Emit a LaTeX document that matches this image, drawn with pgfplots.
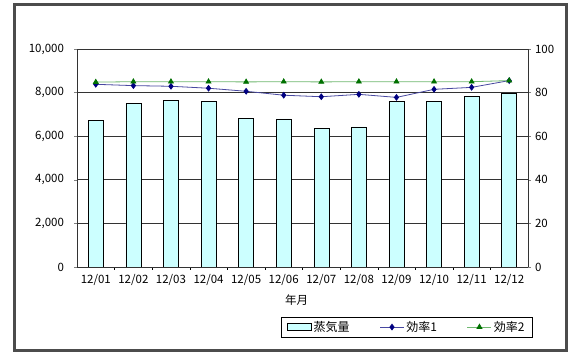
\documentclass[border=0pt]{standalone}
\usepackage{fontspec}
\setmainfont{Noto Sans CJK JP}
\usepackage{pgfplots}
\pgfplotsset{compat=1.18}
\definecolor{barfill}{HTML}{CCFFFF}
\definecolor{effone}{HTML}{000080}
\definecolor{efftwo}{HTML}{007000}
\definecolor{efftwoline}{HTML}{70B870}
\definecolor{effoneline}{HTML}{4848A0}
\pgfplotsset{
  linelegend/.style={legend image code/.code={\draw[##1,mark repeat=2,mark phase=2] plot coordinates {(0pt,0pt) (12pt,0pt) (24pt,0pt)};}},
  barlegend/.style={legend image code/.code={\draw[##1] (0pt,-3.5pt) rectangle (24pt,3.5pt);}},
}
\begin{document}
\fontsize{11.5}{13}\selectfont
\begin{tikzpicture}[x=1pt,y=1pt]
\useasboundingbox (0,0) rectangle (568,352);
\fill[white] (0,0) rectangle (568,352);
\draw[line width=3pt, color=black!70] (14,1.5) rectangle (566.5,347.7);
\begin{axis}[
  at={(77pt,85pt)}, anchor=south west, scale only axis,
  width=451pt, height=218pt,
  xmin=-0.5, xmax=11.5, ymin=0, ymax=10000,
  ybar, bar width=15pt,
  xtick={0,1,2,3,4,5,6,7,8,9,10,11},
  xticklabels={12/01,12/02,12/03,12/04,12/05,12/06,12/07,12/08,12/09,12/10,12/11,12/12},
  major x tick style={draw=none},
  minor x tick num=1,
  minor x tick style={black},
  minor tick length=3pt,
  ytick={0,2000,4000,6000,8000,10000},
  scaled y ticks=false,
  yticklabel style={/pgf/number format/1000 sep={,}, xshift=-6pt},
  /pgf/number format/assume math mode=true,
  ymajorgrids, grid style={black!80, line width=0.6pt},
  tick align=outside, major tick length=3pt,
  xtick pos=bottom, ytick pos=left,
  axis line style={black!80, line width=0.6pt},
  xlabel={年月},
  xlabel style={at={(axis description cs:0.487,0)}, anchor=center, yshift=-33pt},
  tick label style={font=\fontsize{11.5}{13}\selectfont},
  label style={font=\fontsize{11.5}{13}\selectfont},
]
\addplot[fill=barfill, draw=black, line width=0.5pt] coordinates {
(0,6710) (1,7510) (2,7660) (3,7610) (4,6820) (5,6790) (6,6370) (7,6430) (8,7600) (9,7600) (10,7830) (11,7970)
};
\end{axis}
\begin{axis}[
  at={(77pt,85pt)}, anchor=south west, scale only axis,
  width=451pt, height=218pt,
  xmin=-0.5, xmax=11.5, ymin=0, ymax=100,
  axis x line=none, axis y line*=right,
  ytick={0,20,40,60,80,100},
  /pgf/number format/assume math mode=true,
  tick align=outside, major tick length=3pt,
  axis line style={black!80, line width=0.6pt},
  tick label style={font=\fontsize{11.5}{13}\selectfont},
  legend style={at={(axis description cs:0.452,-0.229)}, anchor=north west,
    legend columns=3, draw=black, line width=0.5pt,
    font=\fontsize{12}{14}\selectfont,
    /tikz/every even column/.append style={column sep=28pt},
    inner xsep=6pt, inner ysep=2pt},
  legend cell align=left,
]
\addlegendimage{barlegend, fill=barfill, draw=black, line width=0.5pt}
\addlegendentry{蒸気量}
\addplot[color=effoneline, line width=0.8pt, mark=diamond*, mark size=2.8pt,
  mark options={fill=effone, draw=effone}, linelegend] coordinates {
(0,83.8) (1,83.2) (2,82.9) (3,82.0) (4,80.6) (5,78.8) (6,78.1) (7,79.2) (8,77.8) (9,81.5) (10,82.4) (11,85.5)
};
\addlegendentry{効率1}
\addplot[color=efftwoline, line width=0.8pt, mark=triangle*, mark size=2.8pt,
  mark options={fill=efftwo, draw=efftwo}, linelegend] coordinates {
(0,84.8) (1,85.0) (2,85.0) (3,85.0) (4,84.9) (5,85.0) (6,84.9) (7,85.0) (8,85.0) (9,85.0) (10,85.0) (11,85.5)
};
\addlegendentry{効率2}
\end{axis}
\end{tikzpicture}
\end{document}
